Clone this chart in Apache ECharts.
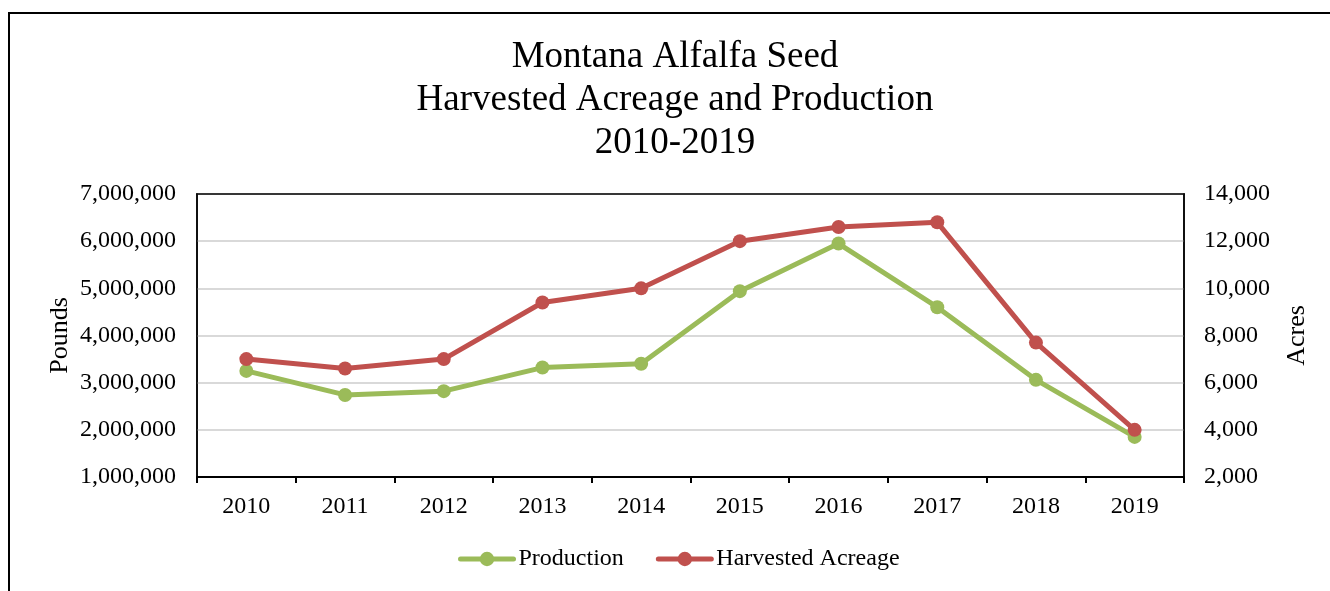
<!DOCTYPE html>
<html>
<head>
<meta charset="utf-8">
<script src="https://cdn.jsdelivr.net/npm/echarts@6/dist/echarts.min.js"></script>
<style>
html,body{margin:0;padding:0;background:#fff;}
#c{width:1330px;height:591px;}
</style>
</head>
<body>
<div id="c"></div>
<script>
const titleLines = ['Montana Alfalfa Seed', 'Harvested Acreage and Production', '2010-2019'];
const years = ['2010','2011','2012','2013','2014','2015','2016','2017','2018','2019'];
const production = [3250000, 2740000, 2820000, 3320000, 3400000, 4940000, 5950000, 4600000, 3060000, 1850000];
const acreage = [7000, 6600, 7000, 9400, 10000, 12000, 12600, 12800, 7700, 4000];
const seriesNames = ['Production', 'Harvested Acreage'];
const axisNames = ['Pounds', 'Acres'];

const FONT = '"Liberation Serif", "Times New Roman", serif';
const chart = echarts.init(document.getElementById('c'));
const fmt = v => v.toLocaleString('en-US');
chart.setOption({
  animation: false,
  textStyle: {fontFamily: FONT},
  title: {
    text: titleLines.join('\n'),
    left: 675, top: 36, padding: 0, textAlign: 'center',
    textStyle: {fontFamily: FONT, fontSize: 37, fontWeight: 'normal', color: '#000', lineHeight: 43}
  },
  graphic: [{
    type: 'polyline',
    shape: {points: [[9, 600], [9, 13], [1340, 13]]},
    style: {stroke: '#000', lineWidth: 2, fill: null}
  }],
  legend: {
    bottom: 15, left: 453,
    itemWidth: 53, itemHeight: 18, itemGap: 32,
    textStyle: {fontFamily: FONT, fontSize: 24, color: '#000'},
    lineStyle: {width: 5, cap: 'round'},
    data: seriesNames
  },
  grid: {left: 197, right: 146, top: 194, bottom: 114, show: true, borderColor: '#000', borderWidth: 1.5},
  xAxis: [{
    type: 'category', data: years, boundaryGap: true,
    axisLine: {lineStyle: {color: '#000', width: 2}},
    axisTick: {show: true, length: 6, lineStyle: {color: '#000', width: 2}},
    axisLabel: {fontFamily: FONT, fontSize: 24, color: '#000', margin: 18}
  }, {
    type: 'category', data: years, position: 'top',
    axisLine: {show: true, lineStyle: {color: '#000', width: 1.5}},
    axisTick: {show: false}, axisLabel: {show: false}, splitLine: {show: false}
  }],
  yAxis: [{
    type: 'value', min: 1000000, max: 7000000, interval: 1000000,
    name: axisNames[0], nameLocation: 'middle', nameGap: 124, nameMoveOverlap: false,
    nameTextStyle: {fontFamily: FONT, fontSize: 26, color: '#000'},
    axisLine: {show: true, lineStyle: {color: '#000', width: 1.5}},
    axisTick: {show: false},
    axisLabel: {fontFamily: FONT, fontSize: 24, color: '#000', margin: 21, formatter: fmt},
    splitLine: {lineStyle: {color: '#d9d9d9', width: 2}}
  }, {
    type: 'value', min: 2000, max: 14000, interval: 2000, position: 'right',
    name: axisNames[1], nameLocation: 'middle', nameGap: 100, nameMoveOverlap: false,
    nameTextStyle: {fontFamily: FONT, fontSize: 26, color: '#000'},
    axisLine: {show: true, lineStyle: {color: '#000', width: 1.5}},
    axisTick: {show: false},
    axisLabel: {fontFamily: FONT, fontSize: 24, color: '#000', margin: 20, formatter: fmt},
    splitLine: {show: false}
  }],
  series: [{
    name: seriesNames[0], type: 'line', xAxisIndex: 0, yAxisIndex: 0, data: production,
    symbol: 'circle', symbolSize: 14,
    lineStyle: {color: '#9BBB59', width: 5},
    itemStyle: {color: '#9BBB59'}
  }, {
    name: seriesNames[1], type: 'line', xAxisIndex: 0, yAxisIndex: 1, data: acreage,
    symbol: 'circle', symbolSize: 14,
    lineStyle: {color: '#C0504D', width: 5},
    itemStyle: {color: '#C0504D'}
  }]
});
</script>
</body>
</html>
